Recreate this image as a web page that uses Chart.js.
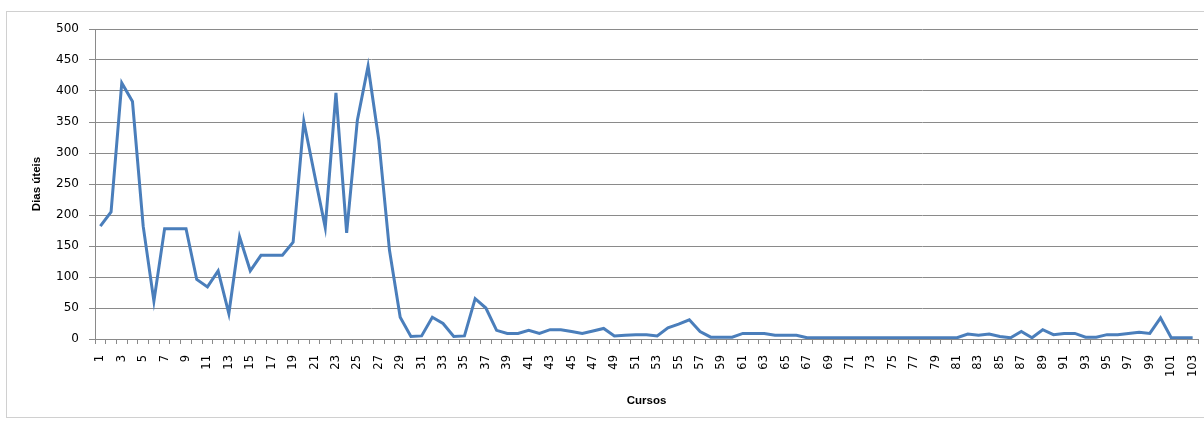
<!DOCTYPE html>
<html>
<head>
<meta charset="utf-8">
<script src="https://cdn.jsdelivr.net/npm/chart.js@4.4.0/dist/chart.umd.min.js"></script>
<style>
  html, body { margin: 0; padding: 0; background: #fff; }
  #wrap { position: relative; width: 1204px; height: 421px; overflow: hidden; }
  #frame { position: absolute; left: 6px; top: 11px; width: 1210px; height: 405px; border: 1px solid #d0d0d0; }
  canvas { position: absolute; left: 0; top: 0; }
</style>
</head>
<body>
<div id="wrap">
  <div id="frame"></div>
  <canvas id="chart" width="1204" height="421"></canvas>
</div>
<script>
// Cursos 1..103
const cursos = [];
for (let i = 1; i <= 103; i++) cursos.push(String(i));

// Dias úteis
const diasUteis = [
  182, 205, 413, 383, 182, 61, 178, 178, 178, 96,
  84, 110, 41, 165, 110, 135, 135, 135, 156, 351,
  265, 180, 397, 171, 353, 440, 321, 143, 35, 4,
  5, 35, 25, 4, 5, 65, 50, 14, 9, 9,
  14, 9, 15, 15, 12, 9, 13, 17, 5, 6,
  7, 7, 5, 18, 24, 31, 12, 3, 3, 3,
  9, 9, 9, 6, 6, 6, 2, 2, 2, 2,
  2, 2, 2, 2, 2, 2, 2, 2, 2, 2,
  2, 8, 6, 8, 4, 2, 12, 2, 15, 7,
  9, 9, 3, 3, 7, 7, 9, 11, 9, 34,
  2, 2, 2
];

const yTicks = [0, 50, 100, 150, 200, 250, 300, 350, 400, 450, 500];

const gridGray = '#8a8a8a';

const ctx = document.getElementById('chart').getContext('2d');
new Chart(ctx, {
  type: 'line',
  data: {
    labels: cursos,
    datasets: [{
      label: 'Dias úteis',
      data: diasUteis,
      borderColor: '#4a7ebb',
      borderWidth: 3,
      pointRadius: 0,
      tension: 0,
      fill: false
    }]
  },
  options: {
    responsive: false,
    animation: false,
    layout: { padding: { top: 29, right: 6, left: 0, bottom: 0 } },
    plugins: {
      legend: { display: false },
      tooltip: { enabled: false }
    },
    scales: {
      x: {
        type: 'category',
        offset: true,
        grid: {
          display: true,
          offset: true,
          drawOnChartArea: false,
          drawTicks: true,
          tickLength: 5,
          color: gridGray
        },
        border: { color: gridGray },
        ticks: {
          autoSkip: false,
          maxRotation: 90,
          minRotation: 90,
          padding: 11,
          color: '#000',
          font: { family: 'DejaVu Sans', size: 11.5 },
          callback: function(val, i) {
            return i % 2 === 0 ? cursos[i] : '';
          }
        },
        title: {
          display: true,
          text: 'Cursos',
          color: '#000',
          font: { family: 'Liberation Sans', size: 11.5, weight: 'bold' },
          padding: { top: 0, bottom: 13 }
        },
        afterFit: function(scale) {
          scale.height = 82;
          scale.paddingLeft = 0;
          scale.paddingRight = 0;
        }
      },
      y: {
        min: 0,
        max: 500,
        afterBuildTicks: function(scale) {
          scale.ticks = yTicks.map(v => ({ value: v }));
        },
        grid: {
          color: gridGray,
          drawTicks: true,
          tickLength: 6
        },
        border: { color: gridGray },
        ticks: {
          padding: 10,
          color: '#000',
          font: { family: 'DejaVu Sans', size: 12 }
        },
        title: {
          display: true,
          text: 'Dias úteis',
          color: '#000',
          font: { family: 'Liberation Sans', size: 11.5, weight: 'bold' },
          padding: { top: 30, bottom: 0 }
        },
        afterFit: function(scale) {
          scale.width = 95;
          scale.paddingTop = 0;
          scale.paddingBottom = 0;
        }
      }
    }
  }
});
</script>
</body>
</html>
